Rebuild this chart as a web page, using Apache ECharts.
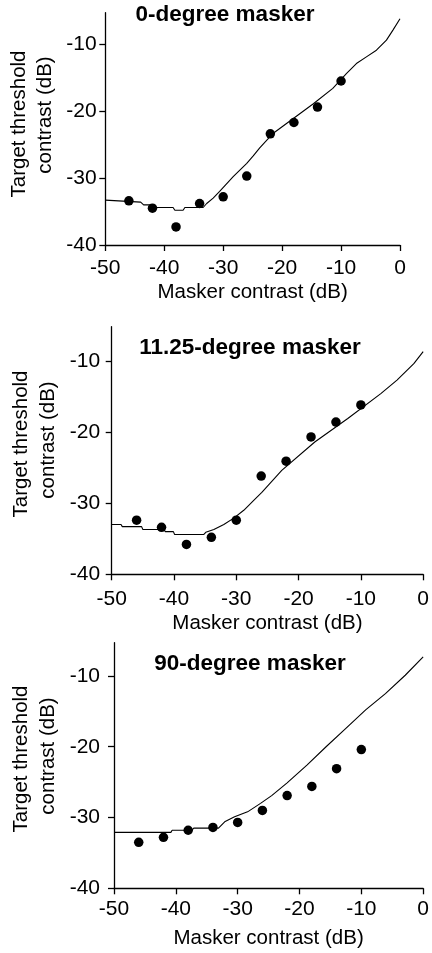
<!DOCTYPE html>
<html>
<head>
<meta charset="utf-8">
<script src="https://cdn.jsdelivr.net/npm/echarts@6/dist/echarts.min.js"></script>
<style>
html,body{margin:0;padding:0;background:#fff;}
#chart{width:432px;height:953px;}
</style>
</head>
<body>
<div id="chart"></div>
<script>
// ---- data ----
const titles = ['0-degree masker', '11.25-degree masker', '90-degree masker'];
const xTicks = [-50, -40, -30, -20, -10, 0];
const yTicks = [-40, -30, -20, -10];
const maskerX = [-46, -42, -38, -34, -30, -26, -22, -18, -14, -10];
const points0 = [-33.4, -34.5, -37.3, -33.8, -32.8, -29.7, -23.4, -21.7, -19.4, -15.5];
const points11 = [-32.4, -33.4, -35.8, -34.8, -32.4, -26.2, -24.1, -20.7, -18.6, -16.2];
const points90 = [-33.5, -32.8, -31.8, -31.4, -30.7, -29.0, -26.9, -25.6, -23.1, -20.4];
const curve0 = [[-50,-33.3],[-44,-33.6],[-43.5,-34.0],[-42,-34.0],[-41.8,-34.4],[-38.5,-34.4],[-38.2,-34.8],[-36.8,-34.8],[-36.5,-34.4],[-33.4,-34.4],[-32.8,-33.8],[-31.7,-33.0],[-30.6,-32.0],[-28.3,-29.8],[-26,-27.8],[-24.9,-26.7],[-23.8,-25.5],[-21.5,-23.3],[-18.1,-21.1],[-14.7,-18.9],[-11.4,-16.6],[-9.1,-14.4],[-7.4,-12.9],[-5.7,-11.9],[-4,-10.9],[-2.3,-9.4],[-1.2,-7.9],[0,-6.2]];
const curve11 = [[-50,-33.0],[-48.5,-33.0],[-48.3,-33.3],[-45.2,-33.3],[-45.0,-33.7],[-41.6,-33.7],[-41.4,-34.0],[-40.1,-34.0],[-39.9,-34.4],[-35.2,-34.4],[-34.9,-34.1],[-33.6,-33.7],[-32.0,-33.0],[-30.4,-32.1],[-28.8,-31.0],[-27.2,-29.6],[-25.9,-28.5],[-22.7,-25.4],[-17.4,-21.4],[-12.1,-18.1],[-6.8,-14.6],[-4.2,-12.7],[-1.5,-10.4],[0,-8.7]];
const curve90 = [[-50,-32.1],[-40.8,-32.1],[-40.6,-31.8],[-37.4,-31.8],[-37.1,-31.5],[-33.1,-31.5],[-32.1,-30.6],[-30.5,-29.9],[-28.4,-29.2],[-26.3,-28.0],[-24.5,-26.9],[-22.0,-25.1],[-18.8,-22.6],[-15.7,-20.0],[-12.5,-17.4],[-9.3,-14.8],[-6.1,-12.5],[-2.9,-9.9],[0,-7.3]];
const pointSets = [points0, points11, points90];
const curves = [curve0, curve11, curve90];
const xAxisName = 'Masker contrast (dB)';
const yAxisName = ['Target threshold', 'contrast (dB)'];

// ---- layout ----
const FONT = 'Liberation Sans, Arial, Helvetica, sans-serif';
const grids = [
  {left: 105.3, top: 12.7, width: 294.7, height: 232.3},
  {left: 111.7, top: 326.7, width: 314.3, height: 247.6},
  {left: 114, top: 642.7, width: 314.3, height: 245.6}
];
const yMaxs = [-5.3, -5.2, -5.3];
const xLabelMargin = [12.3, 14.9, 10];
const xNameGap = [37.2, 38.5, 40];
const yLabelMargin = [8.6, 11.5, 14];
const titlePos = [[225, 14.7], [250, 348], [250, 664]];
const yNamePos = [
  [[19, 124], [45, 115]],
  [[21.7, 444], [48.3, 440]],
  [[21.7, 759], [48.3, 756]]
];

const chart = echarts.init(document.getElementById('chart'), null, {renderer: 'canvas'});
const axisLineStyle = {color: '#000', width: 1.3};
const option = {
  animation: false,
  backgroundColor: '#fff',
  grid: grids.map(g => Object.assign({containLabel: false}, g)),
  xAxis: grids.map((g, i) => ({
    type: 'value', gridIndex: i, min: -50, max: 0, interval: 10,
    axisLine: {show: true, onZero: false, lineStyle: axisLineStyle},
    axisTick: {show: true, length: 6, inside: false, lineStyle: axisLineStyle, customValues: xTicks},
    axisLabel: {color: '#000', fontSize: 21, fontFamily: FONT, margin: xLabelMargin[i], customValues: xTicks,
      showMinLabel: true, showMaxLabel: true, hideOverlap: false},
    splitLine: {show: false},
    name: xAxisName, nameLocation: 'middle', nameGap: xNameGap[i],
    nameTextStyle: {color: '#000', fontSize: 20.5, fontFamily: FONT}
  })),
  yAxis: grids.map((g, i) => ({
    type: 'value', gridIndex: i, min: -40, max: yMaxs[i], interval: 10,
    axisLine: {show: true, onZero: false, lineStyle: axisLineStyle},
    axisTick: {show: true, length: 6, inside: false, lineStyle: axisLineStyle, customValues: yTicks},
    axisLabel: {color: '#000', fontSize: 21, fontFamily: FONT, margin: yLabelMargin[i], customValues: yTicks,
      showMinLabel: true, showMaxLabel: true, hideOverlap: false},
    splitLine: {show: false}
  })),
  series: [].concat(
    curves.map((c, i) => ({
      type: 'line', xAxisIndex: i, yAxisIndex: i, data: c,
      showSymbol: false, symbol: 'none', smooth: false,
      lineStyle: {color: '#000', width: 1.1}, z: 2, silent: true
    })),
    pointSets.map((p, i) => ({
      type: 'scatter', xAxisIndex: i, yAxisIndex: i,
      data: maskerX.map((x, k) => [x, p[k]]),
      symbol: 'circle', symbolSize: 9.5,
      itemStyle: {color: '#000', opacity: 1}, z: 3, silent: true
    }))
  ),
  graphic: [].concat(
    titles.map((t, i) => ({
      type: 'text', x: titlePos[i][0], y: titlePos[i][1], silent: true,
      style: {text: t, font: 'bold 22.5px ' + FONT, fill: '#000', align: 'center', verticalAlign: 'middle'}
    })),
    yNamePos.flatMap((pp, i) => pp.map((p, j) => ({
      type: 'text', x: p[0], y: p[1], rotation: Math.PI / 2, silent: true,
      style: {text: yAxisName[j], font: '20.5px ' + FONT, fill: '#000', align: 'center', verticalAlign: 'middle'}
    })))
  )
};
chart.setOption(option);
</script>
</body>
</html>
